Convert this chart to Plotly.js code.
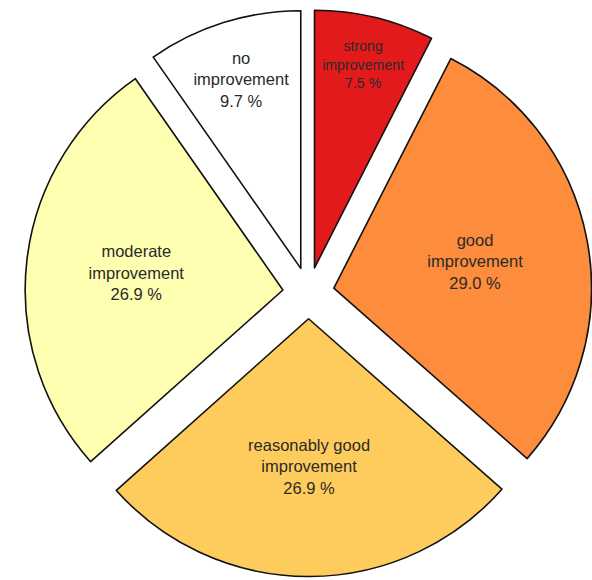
<!DOCTYPE html>
<html>
<head>
<meta charset="utf-8">
<script src="https://cdn.plot.ly/plotly-3.0.1.min.js"></script>
<style>html,body{margin:0;padding:0;background:#fff;}#chart{width:592px;height:580px;}</style>
</head>
<body>
<div id="chart"></div>
<script>
const categories = ['strong<br>improvement', 'good<br>improvement', 'reasonably good<br>improvement', 'moderate<br>improvement', 'no<br>improvement'];
const percentages = [7.5, 29.0, 26.9, 26.9, 9.7];
const sliceColors = ['#E31A1C', '#FD8D3C', '#FECC5C', '#FFFFB2', '#FFFFFF'];

const W = 592, H = 580;
const cx = 310, cy = 293, half = 285;

const trace = {
  type: 'pie',
  labels: categories,
  values: percentages,
  sort: false,
  direction: 'clockwise',
  rotation: 0,
  pull: percentages.map(() => 0.1),
  marker: {colors: sliceColors, line: {color: '#111', width: 1.6}},
  texttemplate: '%{label}<br>%{value:.1f} %',
  textposition: 'inside',
  insidetextorientation: 'horizontal',
  insidetextfont: {family: 'Liberation Sans, Arial, sans-serif', size: 16.5, color: '#2a2a2a'},
  hoverinfo: 'none',
  showlegend: false,
  domain: {
    x: [(cx - half) / W, (cx + half) / W],
    y: [(H - cy - half) / H, (H - cy + half) / H]
  }
};

Plotly.newPlot('chart', [trace], {
  width: W, height: H,
  margin: {l: 0, r: 0, t: 0, b: 0},
  paper_bgcolor: '#fff',
  showlegend: false
}, {staticPlot: true});
</script>
</body>
</html>
